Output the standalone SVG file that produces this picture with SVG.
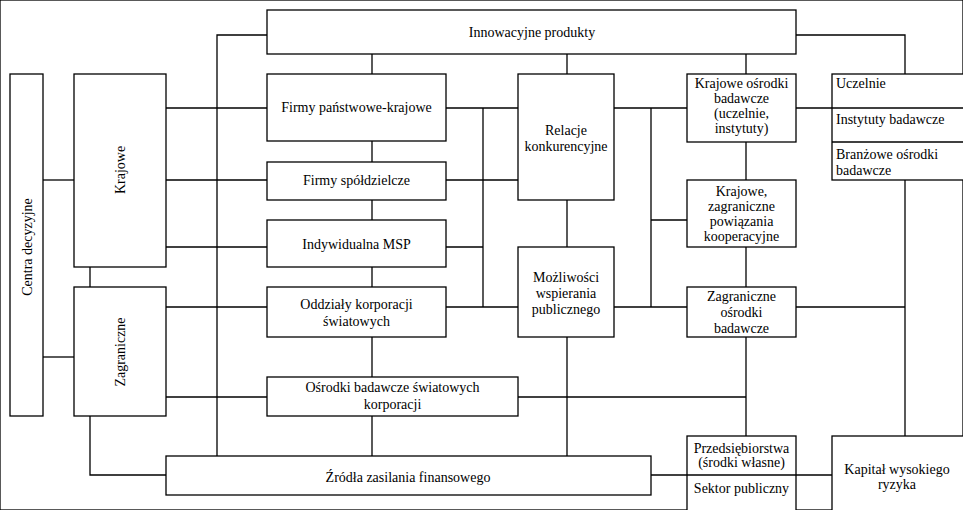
<svg xmlns="http://www.w3.org/2000/svg" width="963" height="510" viewBox="0 0 963 510">
<style>
rect{fill:#fff;stroke:#000;stroke-width:1.3}
line,path{stroke:#000;stroke-width:1.3;fill:none}
text{font-family:"Liberation Serif","Times New Roman",serif;font-size:14px;fill:#000}
.c{text-anchor:middle}
</style>
<rect width="963" height="510" fill="#fff" stroke="none"/>
<g id="connectors">
<path d="M267 35H217V456"/>
<line x1="372" y1="54" x2="372" y2="74"/>
<line x1="567" y1="54" x2="567" y2="74"/>
<line x1="746" y1="54" x2="746" y2="74"/>
<path d="M796 35H905V74"/>
<line x1="43" y1="180" x2="74" y2="180"/>
<line x1="43" y1="357" x2="74" y2="357"/>
<line x1="90" y1="267" x2="90" y2="287"/>
<path d="M90 416V475H166"/>
<line x1="166" y1="108" x2="267" y2="108"/>
<line x1="166" y1="180" x2="267" y2="180"/>
<line x1="166" y1="247" x2="267" y2="247"/>
<line x1="166" y1="307" x2="267" y2="307"/>
<line x1="166" y1="397" x2="267" y2="397"/>
<line x1="372" y1="141" x2="372" y2="162"/>
<line x1="372" y1="200" x2="372" y2="220"/>
<line x1="372" y1="267" x2="372" y2="287"/>
<line x1="372" y1="337" x2="372" y2="377"/>
<line x1="372" y1="416" x2="372" y2="456"/>
<line x1="446" y1="108" x2="518" y2="108"/>
<line x1="446" y1="180" x2="518" y2="180"/>
<line x1="446" y1="247" x2="483" y2="247"/>
<line x1="446" y1="307" x2="518" y2="307"/>
<line x1="483" y1="108" x2="483" y2="307"/>
<line x1="567" y1="200" x2="567" y2="247"/>
<line x1="567" y1="337" x2="567" y2="456"/>
<line x1="614" y1="108" x2="687" y2="108"/>
<line x1="614" y1="307" x2="687" y2="307"/>
<line x1="651" y1="108" x2="651" y2="307"/>
<line x1="651" y1="220" x2="687" y2="220"/>
<line x1="746" y1="142" x2="746" y2="180"/>
<line x1="746" y1="247" x2="746" y2="287"/>
<line x1="746" y1="337" x2="746" y2="436"/>
<line x1="518" y1="397" x2="746" y2="397"/>
<line x1="796" y1="108" x2="832" y2="108"/>
<line x1="796" y1="307" x2="905" y2="307"/>
<line x1="905" y1="180" x2="905" y2="436"/>
<line x1="651" y1="475" x2="687" y2="475"/>
<line x1="796" y1="475" x2="832" y2="475"/>
</g>
<g id="innowacyjne"><rect x="267" y="10" width="529" height="44"/><text class="c" x="532" y="37">Innowacyjne produkty</text></g>
<g id="centra"><rect x="10" y="74" width="33" height="342"/><text class="c" transform="translate(31.5 247) rotate(-90)">Centra decyzyjne</text></g>
<g id="krajowe"><rect x="74" y="74" width="92" height="193"/><text class="c" transform="translate(125 170) rotate(-90)">Krajowe</text></g>
<g id="zagraniczne"><rect x="74" y="287" width="92" height="129"/><text class="c" transform="translate(125 352) rotate(-90)">Zagraniczne</text></g>
<g id="firmy-panstwowe"><rect x="267" y="74" width="179" height="67"/><text class="c" x="356.5" y="112">Firmy państwowe-krajowe</text></g>
<g id="firmy-spoldzielcze"><rect x="267" y="162" width="179" height="38"/><text class="c" x="356.5" y="185">Firmy spółdzielcze</text></g>
<g id="indywidualna"><rect x="267" y="220" width="179" height="47"/><text class="c" x="356.5" y="249">Indywidualna MSP</text></g>
<g id="oddzialy"><rect x="267" y="287" width="179" height="50"/><text class="c" x="356.5" y="309">Oddziały korporacji</text><text class="c" x="356.5" y="326">światowych</text></g>
<g id="osrodki-swiatowych"><rect x="267" y="377" width="251" height="39"/><text class="c" x="392.5" y="392">Ośrodki badawcze światowych</text><text class="c" x="392.5" y="409">korporacji</text></g>
<g id="zrodla"><rect x="166" y="456" width="485" height="39"/><text class="c" x="408" y="482">Źródła zasilania finansowego</text></g>
<g id="relacje"><rect x="518" y="74" width="96" height="126"/><text class="c" x="566" y="135">Relacje</text><text class="c" x="566" y="151">konkurencyjne</text></g>
<g id="mozliwosci"><rect x="518" y="247" width="96" height="90"/><text class="c" x="566" y="282">Możliwości</text><text class="c" x="566" y="298">wspierania</text><text class="c" x="566" y="314">publicznego</text></g>
<g id="krajowe-osrodki"><rect x="687" y="74" width="109" height="68"/><text class="c" x="741.5" y="88">Krajowe ośrodki</text><text class="c" x="741.5" y="103">badawcze</text><text class="c" x="741.5" y="118">(uczelnie,</text><text class="c" x="741.5" y="133">instytuty)</text></g>
<g id="powiazania"><rect x="687" y="180" width="109" height="67"/><text class="c" x="741.5" y="196">Krajowe,</text><text class="c" x="741.5" y="211">zagraniczne</text><text class="c" x="741.5" y="226">powiązania</text><text class="c" x="741.5" y="241">kooperacyjne</text></g>
<g id="zagraniczne-osrodki"><rect x="687" y="287" width="109" height="50"/><text class="c" x="741.5" y="301">Zagraniczne</text><text class="c" x="741.5" y="317">ośrodki</text><text class="c" x="741.5" y="333">badawcze</text></g>
<g id="uczelnie-stack"><rect x="832" y="74" width="140" height="106"/><line x1="832" y1="108" x2="972" y2="108"/><line x1="832" y1="142" x2="972" y2="142"/><text x="836" y="88">Uczelnie</text><text x="836" y="124">Instytuty badawcze</text><text x="836" y="159">Branżowe ośrodki</text><text x="836" y="175">badawcze</text></g>
<g id="finanse-stack"><rect x="687" y="436" width="109" height="84"/><line x1="687" y1="475" x2="796" y2="475"/><text class="c" x="741.5" y="453">Przedsiębiorstwa</text><text class="c" x="741.5" y="467">(środki własne)</text><text class="c" x="741.5" y="493">Sektor publiczny</text></g>
<g id="kapital"><rect x="832" y="436" width="140" height="84"/><text class="c" x="897" y="474">Kapitał wysokiego</text><text class="c" x="897" y="489">ryzyka</text></g>
</svg>
